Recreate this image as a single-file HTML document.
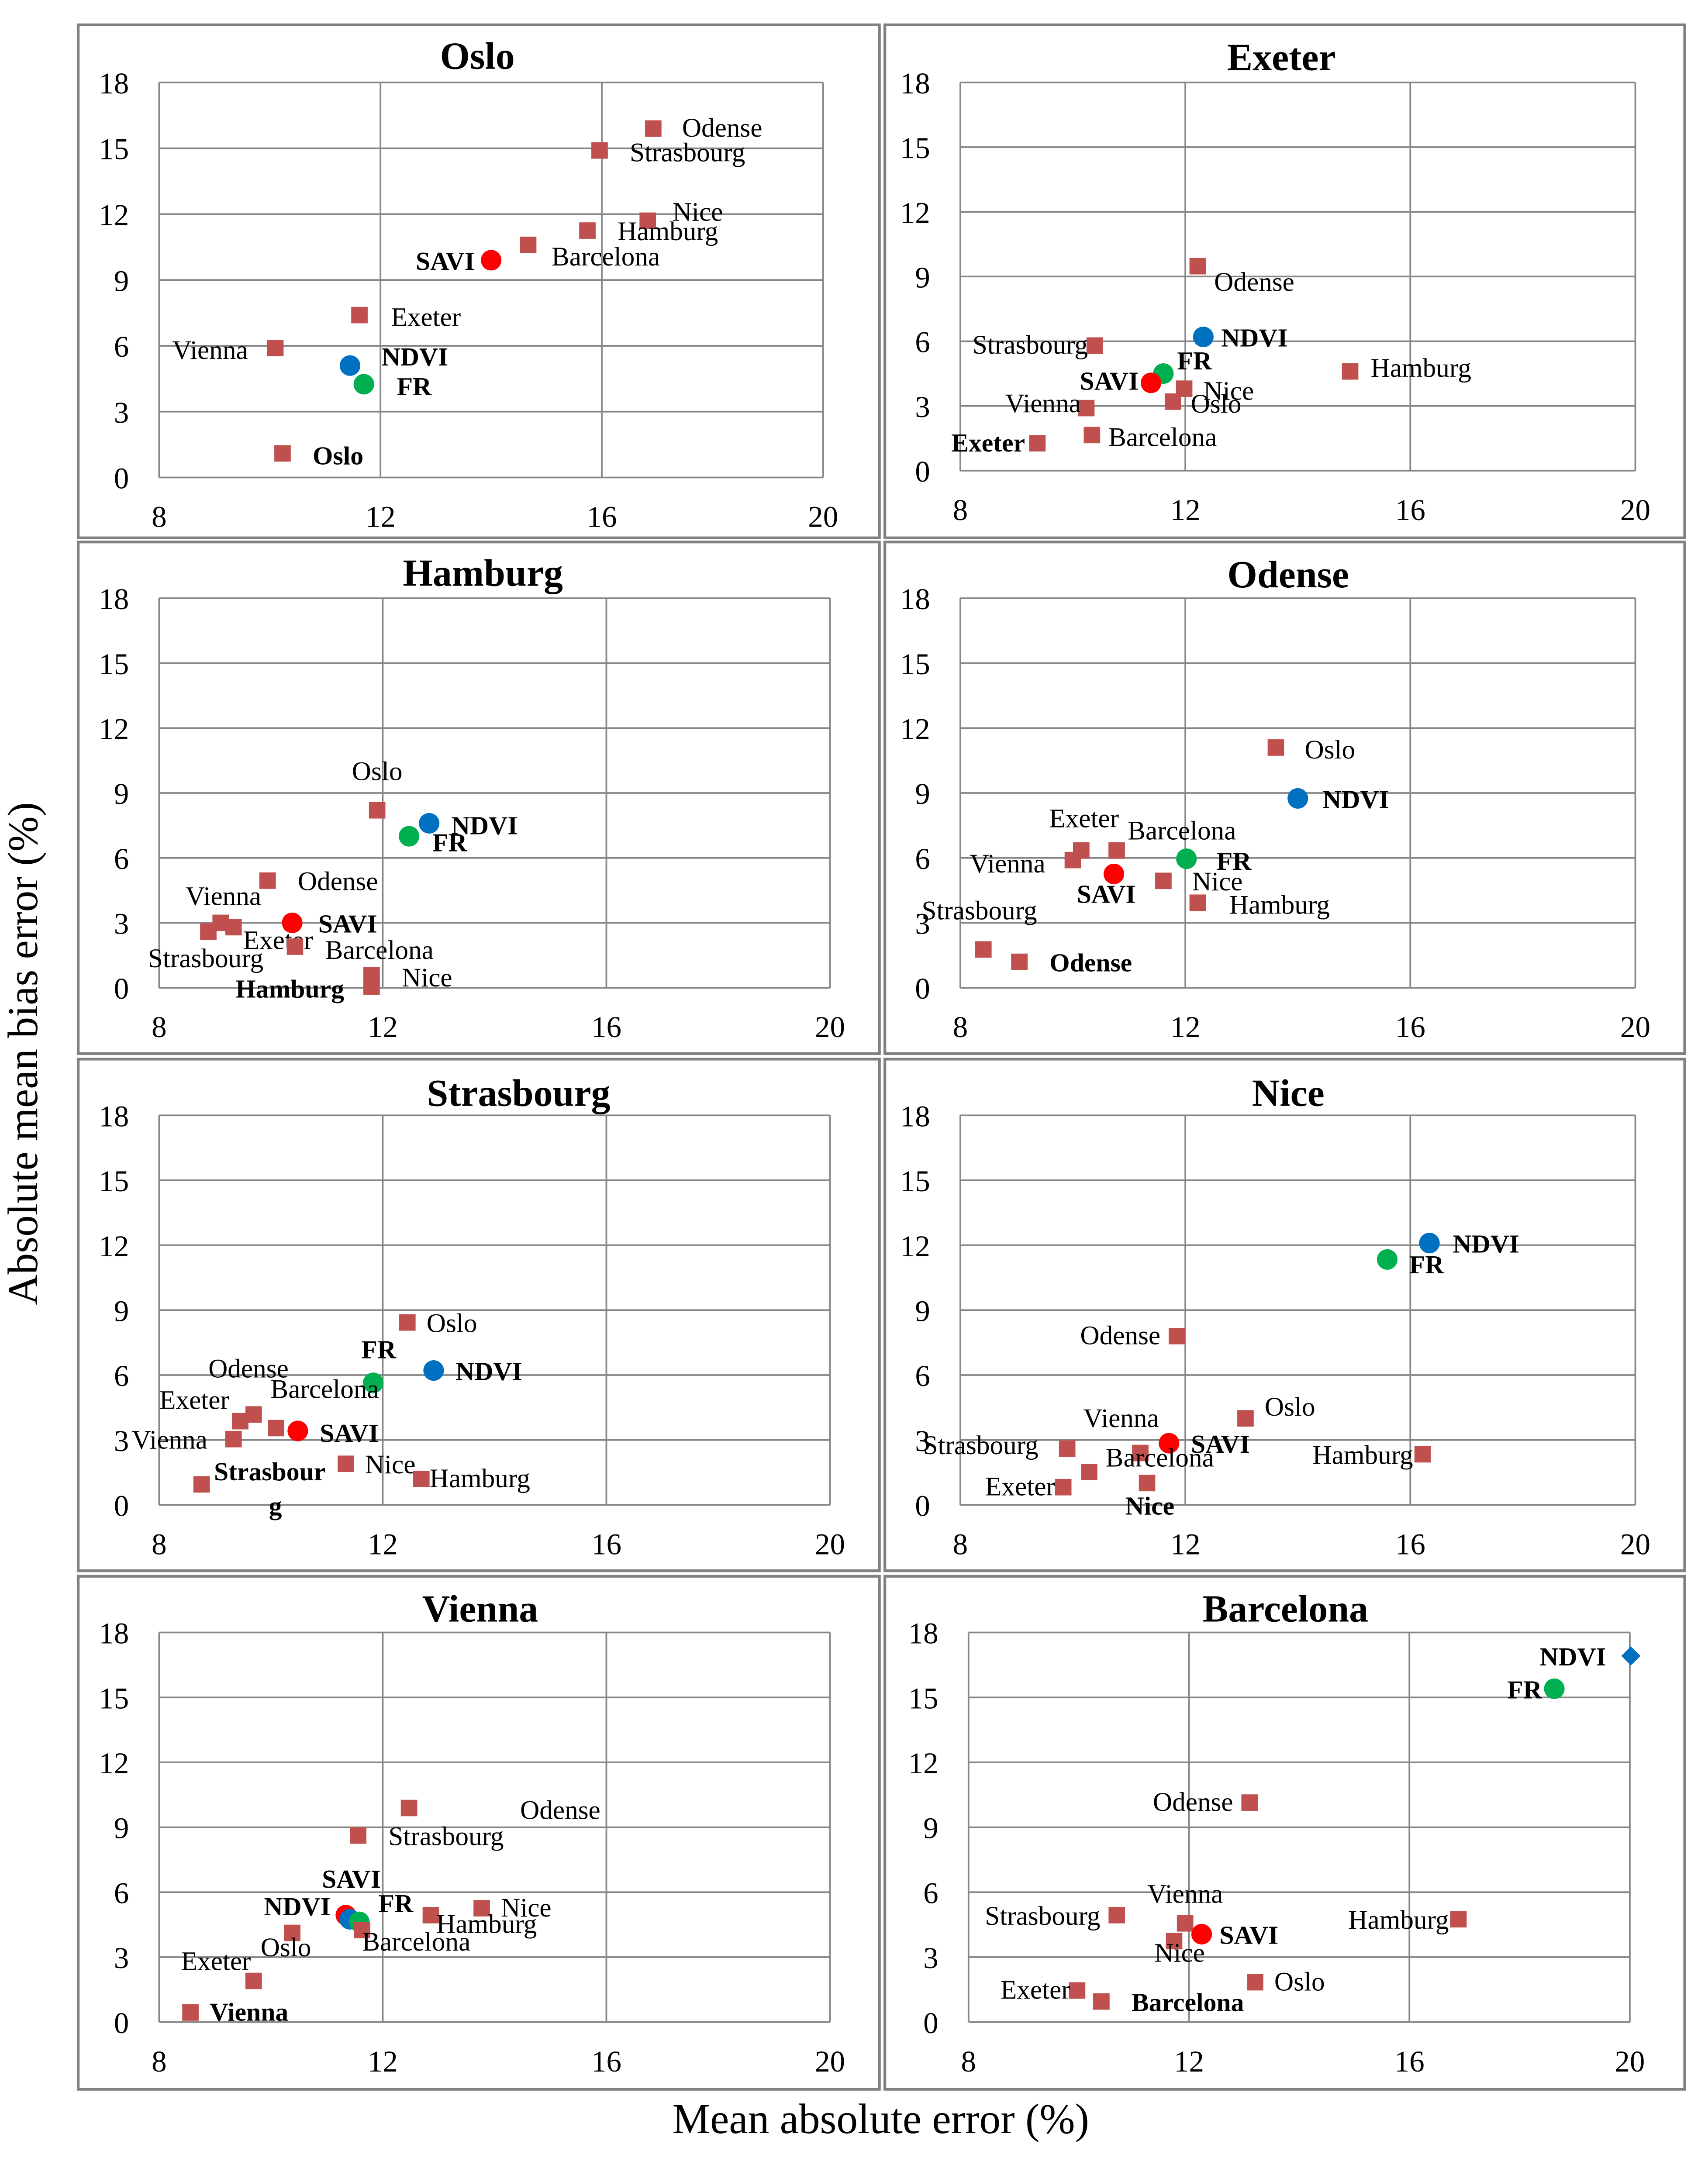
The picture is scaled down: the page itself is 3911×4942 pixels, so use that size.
<!DOCTYPE html>
<html><head><meta charset="utf-8"><style>
html,body{margin:0;padding:0;background:#fff}
svg{display:block}
text{font-family:"Liberation Serif",serif;fill:#000}
</style></head><body>
<svg id="chart" width="3911" height="4942" viewBox="0 0 1245 1573" xmlns="http://www.w3.org/2000/svg">
<rect x="0" y="0" width="1245" height="1573" fill="#fff"/>
<text x="0" y="0" font-size="31" text-anchor="middle" transform="translate(27,768) rotate(-90)">Absolute mean bias error (%)</text>
<text x="642" y="1555" font-size="31" text-anchor="middle">Mean absolute error (%)</text>
</svg>
<script>
const xTicks=[8,12,16,20];
const yTicks=[0,3,6,9,12,15,18];
// Panel data
const osloNames=["Odense","Strasbourg","Nice","Hamburg","Barcelona","SAVI","Exeter","Vienna","NDVI","FR","Oslo"];
const osloMAE=[16.93,15.96,16.83,15.74,14.67,14.0,11.62,10.1,11.45,11.7,10.23];
const osloMBE=[15.9,14.9,11.7,11.25,10.6,9.9,7.4,5.9,5.1,4.25,1.1];
const exeterNames=["Odense","NDVI","Strasbourg","FR","Hamburg","SAVI","Nice","Oslo","Vienna","Barcelona","Exeter"];
const exeterMAE=[12.22,12.32,10.39,11.61,14.93,11.39,11.98,11.78,10.24,10.34,9.37];
const exeterMBE=[9.48,6.2,5.8,4.5,4.6,4.07,3.8,3.2,2.9,1.65,1.27];
const hamburgNames=["Oslo","NDVI","FR","Odense","Vienna","SAVI","Exeter","Strasbourg","Barcelona","Nice","Hamburg"];
const hamburgMAE=[11.9,12.83,12.47,9.94,9.1,10.38,9.33,8.88,10.43,11.8,11.8];
const hamburgMBE=[8.2,7.6,7.0,4.95,3.0,3.0,2.8,2.6,1.9,0.57,0.06];
const odenseNames=["Oslo","NDVI","Exeter","Barcelona","Vienna","FR","SAVI","Nice","Hamburg","Strasbourg","Odense"];
const odenseMAE=[13.61,14.0,10.15,10.78,10.0,12.02,10.73,11.61,12.22,8.41,9.05];
const odenseMBE=[11.1,8.75,6.34,6.34,5.9,5.96,5.26,4.94,3.93,1.77,1.2];
const strasNames=["Oslo","NDVI","FR","Odense","Exeter","Barcelona","SAVI","Vienna","Nice","Hamburg","Strasbourg"];
const strasMAE=[12.44,12.91,11.83,9.69,9.45,10.09,10.48,9.33,11.34,12.69,8.76];
const strasMBE=[8.43,6.21,5.64,4.18,3.87,3.55,3.42,3.04,1.9,1.2,0.95];
const niceNames=["NDVI","FR","Odense","Oslo","SAVI","Strasbourg","Vienna","Hamburg","Barcelona","Nice","Exeter"];
const niceMAE=[16.34,15.59,11.85,13.07,11.71,9.9,11.2,16.22,10.29,11.32,9.83];
const niceMBE=[12.1,11.34,7.8,4.0,2.85,2.6,2.4,2.34,1.52,1.01,0.82];
const viennaNames=["Odense","Strasbourg","Nice","SAVI","NDVI","Hamburg","FR","Barcelona","Oslo","Exeter","Vienna"];
const viennaMAE=[12.47,11.56,13.77,11.34,11.41,12.86,11.58,11.63,10.38,9.69,8.56];
const viennaMBE=[9.89,8.62,5.26,4.94,4.75,4.94,4.63,4.25,4.12,1.9,0.44];
const barcaNames=["NDVI","FR","Odense","Hamburg","Strasbourg","Vienna","SAVI","Nice","Oslo","Exeter","Barcelona"];
const barcaMAE=[20.02,18.63,13.1,16.89,10.69,11.93,12.23,11.73,13.2,9.97,10.41];
const barcaMBE=[16.92,15.4,10.14,4.75,4.94,4.56,4.06,3.74,1.84,1.46,0.95];

// label placement (styling): [dx,dy,anchor]
const L={
oslo:[[21,6,'s'],[22,8,'s'],[18,0,'s'],[22,7,'s'],[17,15,'s'],[-12,7,'e'],[23,8,'s'],[-20,8,'e'],[23,0,'s'],[24,8,'s'],[22,8,'s']],
exeter:[[12,18,'s'],[13,7,'s'],[-5,6,'e'],[10,-3,'s'],[15,4,'s'],[-9,5,'e'],[14,8,'s'],[13,8,'s'],[-4,3,'e'],[12,8,'s'],[-9,6,'e']],
hamburg:[[0,-22,'m'],[16,8,'s'],[17,11,'s'],[22,7,'s'],[2,-13,'m'],[19,7,'s'],[7,16,'s'],[-44,26,'s'],[22,9,'s'],[22,8,'s'],[-20,8,'e']],
odense:[[21,8,'s'],[18,7,'s'],[2,-17,'m'],[8,-8,'s'],[-20,9,'e'],[22,8,'s'],[-27,21,'s'],[21,7,'s'],[23,8,'s'],[-45,-22,'s'],[22,7,'s']],
stras:[[14,7,'s'],[16,7,'s'],[4,-18,'m'],[-33,-27,'s'],[-8,-9,'e'],[-4,-22,'s'],[16,8,'s'],[-19,7,'e'],[14,7,'s'],[6,6,'s'],[9,-3,'s']],
nice:[[17,7,'s'],[16,10,'s'],[-12,6,'e'],[14,-2,'s'],[16,7,'s'],[-21,4,'e'],[-14,-19,'m'],[-7,7,'e'],[12,-4,'s'],[2,23,'m'],[-6,6,'e']],
vienna:[[81,8,'s'],[22,7,'s'],[14,6,'s'],[4,-20,'m'],[-14,-3,'e'],[4,13,'s'],[14,-7,'s'],[0,15,'s'],[-23,17,'s'],[-2,-8,'e'],[14,6,'s']],
barca:[[-18,7,'e'],[-9,7,'e'],[-12,6,'e'],[-7,7,'e'],[-12,7,'e'],[0,-15,'m'],[13,7,'s'],[4,15,'m'],[14,6,'s'],[-5,6,'e'],[22,7,'s']]
};
const panels=[
{key:'oslo',title:'Oslo',city:'Oslo',box:[57,18,641,392],plot:[116,600,60,348],tx:348,ty:50,names:osloNames,mae:osloMAE,mbe:osloMBE},
{key:'exeter',title:'Exeter',city:'Exeter',box:[645,18,1228,392],plot:[700,1192,60,343],tx:934,ty:51,names:exeterNames,mae:exeterMAE,mbe:exeterMBE},
{key:'hamburg',title:'Hamburg',city:'Hamburg',box:[57,395,641,768],plot:[116,605,436,720],tx:352,ty:427,names:hamburgNames,mae:hamburgMAE,mbe:hamburgMBE},
{key:'odense',title:'Odense',city:'Odense',box:[645,395,1228,768],plot:[700,1192,436,720],tx:939,ty:428,names:odenseNames,mae:odenseMAE,mbe:odenseMBE},
{key:'stras',title:'Strasbourg',city:'Strasbourg',box:[57,772,641,1145],plot:[116,605,813,1097],tx:378,ty:806,names:strasNames,mae:strasMAE,mbe:strasMBE},
{key:'nice',title:'Nice',city:'Nice',box:[645,772,1228,1145],plot:[700,1192,813,1097],tx:939,ty:806,names:niceNames,mae:niceMAE,mbe:niceMBE},
{key:'vienna',title:'Vienna',city:'Vienna',box:[57,1149,641,1523],plot:[116,605,1190,1474],tx:350,ty:1182,names:viennaNames,mae:viennaMAE,mbe:viennaMBE},
{key:'barca',title:'Barcelona',city:'Barcelona',box:[645,1149,1228,1523],plot:[706,1188,1190,1474],tx:937,ty:1182,names:barcaNames,mae:barcaMAE,mbe:barcaMBE}
];
const NS='http://www.w3.org/2000/svg';
const svg=document.getElementById('chart');
function mk(tag,attrs,parent){const e=document.createElementNS(NS,tag);for(const k in attrs)e.setAttribute(k,attrs[k]);(parent||svg).appendChild(e);return e;}
panels.forEach(p=>{
  const g=mk('g',{});
  
  
  const [bx0,by0,bx1,by1]=p.box;
  const fr=mk('rect',{x:bx0,y:by0,width:bx1-bx0,height:by1-by0,fill:'none',stroke:'#808080','stroke-width':2},g);
  
  
  const [px0,px1,py0,py1]=p.plot;
  const X=v=>px0+(v-8)/12*(px1-px0);
  const Y=v=>py1-v/18*(py1-py0);
  yTicks.forEach(t=>{
    const ln=mk('line',{x1:px0,x2:px1,y1:Y(t),y2:Y(t),stroke:'#868686','stroke-width':1.2},g);
    
    
    const tl=mk('text',{x:px0-22,y:Y(t)+8,'font-size':22,'text-anchor':'end'},g);
    tl.textContent=t;
    
    
  });
  xTicks.forEach(t=>{
    const ln=mk('line',{x1:X(t),x2:X(t),y1:py0,y2:py1,stroke:'#868686','stroke-width':1.2},g);
    
    
    const tl=mk('text',{x:X(t),y:py1+36,'font-size':22,'text-anchor':'middle'},g);
    tl.textContent=t;
    
    
  });
  const ti=mk('text',{x:p.tx,y:p.ty,'font-size':28,'font-weight':'bold','text-anchor':'middle'},g);
  ti.textContent=p.title;
  
  
  p.names.forEach((n,i)=>{
    const cx=X(p.mae[i]),cy=Y(p.mbe[i]);
    let m;
    if(n==='NDVI'&&p.key==='barca'){
      m=mk('polygon',{points:`${cx},${cy-7} ${cx+7},${cy} ${cx},${cy+7} ${cx-7},${cy}`,fill:'#0070c0'},g);
    }else if(n==='NDVI'){m=mk('circle',{cx:cx,cy:cy,r:7.5,fill:'#0070c0'},g);}
    else if(n==='SAVI'){m=mk('circle',{cx:cx,cy:cy,r:7.5,fill:'#ff0000'},g);}
    else if(n==='FR'){m=mk('circle',{cx:cx,cy:cy,r:7.5,fill:'#00b050'},g);}
    else{m=mk('rect',{x:cx-6,y:cy-6,width:12,height:12,fill:'#c0504d'},g);}
    
    
    const lo=L[p.key][i];
    const bold=(n==='SAVI'||n==='NDVI'||n==='FR'||n===p.city);
    const anc=lo[2]==='e'?'end':(lo[2]==='m'?'middle':'start');
    const lb=mk('text',{x:cx+lo[0],y:cy+lo[1],'font-size':bold?19:19.5,'font-weight':bold?'bold':'normal','text-anchor':anc},g);
    
    
    if(p.key==='stras'&&n==='Strasbourg'){
      lb.textContent='Strasbour';
      const lg=mk('text',{x:cx+lo[0]+40,y:cy+lo[1]+25,'font-size':19,'font-weight':'bold'},g);
      lg.textContent='g';
      
      
    }else lb.textContent=n;
  });
});
</script>
</body></html>
